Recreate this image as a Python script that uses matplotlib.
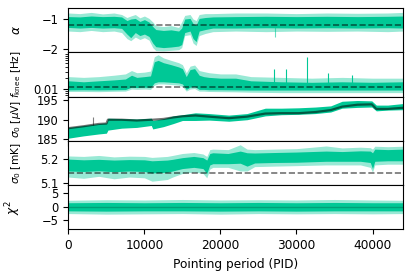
import numpy as np
import matplotlib
matplotlib.use("Agg")
import matplotlib.pyplot as plt
from matplotlib.ticker import LogLocator, NullFormatter

# ---- data (envelopes of the noisy traces) ----
# alpha
alpha_pid = [0, 1500, 3000, 4500, 6000, 7000, 7700, 8200, 8800, 9400, 10000, 10600, 11100, 11500,
             12500, 13500, 14500, 14900, 15300, 16000, 16400, 16800, 17200, 18000, 19000, 22000,
             26000, 30000, 34000, 38000, 42000, 44000]
alpha_core_hi = [-0.92, -0.93, -0.90, -0.92, -0.91, -0.93, -1.05, -1.00, -0.98, -1.08, -1.02, -1.10,
                 -1.25, -1.35, -1.38, -1.36, -1.40, -1.30, -1.00, -0.98, -1.15, -1.20, -0.98, -0.95,
                 -0.93, -0.92, -0.91, -0.92, -0.91, -0.92, -0.91, -0.90]
alpha_core_lo = [-1.28, -1.30, -1.28, -1.30, -1.29, -1.31, -1.50, -1.62, -1.45, -1.55, -1.50, -1.58,
                 -1.80, -1.92, -1.95, -1.93, -1.90, -1.85, -1.45, -1.40, -1.65, -1.75, -1.40, -1.35,
                 -1.30, -1.30, -1.29, -1.30, -1.29, -1.30, -1.29, -1.30]
alpha_out_hi = [-0.80, -0.82, -0.78, -0.83, -0.80, -0.85, -0.95, -0.90, -0.85, -0.96, -0.90, -0.98,
                -1.10, -1.22, -1.25, -1.22, -1.28, -1.10, -0.88, -0.85, -1.00, -1.05, -0.85, -0.82,
                -0.82, -0.80, -0.80, -0.82, -0.80, -0.81, -0.80, -0.78]
alpha_out_lo = [-1.40, -1.42, -1.38, -1.42, -1.40, -1.45, -1.65, -1.72, -1.60, -1.68, -1.62, -1.70,
                -1.95, -2.05, -2.06, -2.04, -2.02, -1.95, -1.55, -1.52, -1.80, -1.88, -1.55, -1.48,
                -1.42, -1.40, -1.42, -1.40, -1.41, -1.40, -1.42, -1.40]
alpha_spike_pid = [27150]
alpha_spike_bot = [-1.6]
alpha_ref = -1.19

# f_knee
fk_pid = [0, 2000, 4000, 6000, 7500, 8300, 9000, 10000, 10800, 11300, 11800, 12500, 13500, 14500,
          15000, 15500, 16000, 16600, 17200, 17800, 18500, 20000, 22000, 24000, 28000, 32000,
          36000, 40000, 44000]
fk_core_hi = [0.017, 0.016, 0.017, 0.018, 0.019, 0.024, 0.021, 0.022, 0.023, 0.055, 0.060, 0.052,
              0.046, 0.040, 0.036, 0.022, 0.034, 0.036, 0.024, 0.022, 0.021, 0.020, 0.020, 0.017,
              0.016, 0.0155, 0.016, 0.0155, 0.016]
fk_out_hi = [0.022, 0.021, 0.022, 0.024, 0.026, 0.032, 0.028, 0.029, 0.031, 0.075, 0.085, 0.070,
             0.060, 0.052, 0.046, 0.028, 0.042, 0.045, 0.032, 0.030, 0.028, 0.026, 0.026, 0.022,
             0.021, 0.020, 0.021, 0.020, 0.020]
fk_core_lo = [0.0097, 0.0098, 0.0097, 0.0098, 0.0099, 0.0115, 0.0112, 0.0115, 0.0112, 0.0150,
              0.0160, 0.0160, 0.0155, 0.0150, 0.0140, 0.0100, 0.0115, 0.0120, 0.0100, 0.0100,
              0.0098, 0.0098, 0.0097, 0.0096, 0.0096, 0.0096, 0.0096, 0.0096, 0.0096]
fk_out_lo = [0.0088, 0.0088, 0.0087, 0.0089, 0.0090, 0.0102, 0.0100, 0.0102, 0.0100, 0.0130,
             0.0140, 0.0140, 0.0135, 0.0130, 0.0120, 0.0090, 0.0102, 0.0105, 0.0090, 0.0090,
             0.0088, 0.0087, 0.0086, 0.0084, 0.0082, 0.0082, 0.0082, 0.0082, 0.0082]
fk_spike_pid = [27100, 28600, 31400, 34200, 37300]
fk_spike_top = [0.035, 0.036, 0.075, 0.027, 0.024]
fk_ref = 0.0118

# sigma0 [uV]
s_pid = [0, 2000, 4000, 5000, 5200, 7000, 9000, 10900, 11100, 12500, 13800, 15000, 16700, 18500,
         21100, 23500, 25900, 28000, 30300, 32500, 34500, 36000, 38000, 39900, 40500, 42000, 44000]
s_dark = [187.8, 188.3, 188.9, 189.0, 190.0, 190.0, 189.8, 190.0, 190.0, 190.2, 190.6, 190.9,
          191.1, 190.8, 190.4, 190.8, 191.6, 191.7, 191.7, 192.0, 192.5, 193.4, 193.9, 194.0,
          192.8, 192.8, 193.1]
s_hi = [188.0, 188.5, 189.0, 189.2, 190.4, 190.3, 190.2, 190.4, 189.8, 190.3, 191.0, 191.3, 191.8,
        191.6, 191.2, 191.6, 193.0, 193.0, 193.1, 193.3, 193.6, 194.8, 195.0, 194.9, 193.8, 193.8,
        194.2]
s_lo = [185.2, 185.8, 186.3, 186.5, 187.3, 187.8, 188.0, 188.5, 187.6, 188.2, 189.0, 189.8, 189.8,
        189.9, 189.6, 190.0, 191.0, 191.3, 191.4, 191.6, 192.0, 193.0, 193.2, 193.3, 192.3, 192.5,
        192.6]
s_spike_pid = [3300]
s_spike_top = [190.7]

# sigma0 [mK]
m_pid = [0, 2000, 4000, 6000, 8000, 10000, 11000, 13000, 13700, 15000, 16500, 17700, 18200, 18600,
         19000, 21000, 22600, 23500, 24500, 27000, 30000, 33900, 36000, 38400, 39700, 40000,
         40300, 42000, 44000]
m_core_hi = [5.199, 5.196, 5.198, 5.195, 5.197, 5.196, 5.192, 5.195, 5.198, 5.205, 5.210, 5.205,
             5.195, 5.222, 5.225, 5.222, 5.232, 5.225, 5.224, 5.226, 5.228, 5.232, 5.230, 5.233,
             5.232, 5.225, 5.240, 5.238, 5.240]
m_core_lo = [5.150, 5.148, 5.151, 5.147, 5.150, 5.148, 5.142, 5.145, 5.150, 5.160, 5.165, 5.160,
             5.140, 5.175, 5.180, 5.180, 5.182, 5.170, 5.183, 5.185, 5.186, 5.190, 5.190, 5.190,
             5.185, 5.160, 5.190, 5.192, 5.192]
m_out_hi = [5.212, 5.210, 5.214, 5.208, 5.211, 5.210, 5.206, 5.210, 5.214, 5.222, 5.226, 5.220,
            5.210, 5.238, 5.240, 5.238, 5.258, 5.240, 5.238, 5.240, 5.242, 5.253, 5.245, 5.248,
            5.246, 5.240, 5.252, 5.250, 5.252]
m_out_lo = [5.125, 5.120, 5.128, 5.118, 5.125, 5.122, 5.108, 5.115, 5.125, 5.140, 5.146, 5.140,
            5.122, 5.158, 5.165, 5.165, 5.150, 5.150, 5.168, 5.170, 5.172, 5.175, 5.175, 5.175,
            5.165, 5.145, 5.175, 5.178, 5.178]
m_ref = 5.14

# chi^2
c_pid = [0, 5000, 10000, 15000, 20000, 25000, 30000, 35000, 40000, 44000]
c_core_hi = [1.5, 1.6, 1.5, 1.6, 1.5, 1.6, 1.5, 1.6, 1.5, 1.5]
c_core_lo = [-1.5, -1.6, -1.5, -1.5, -1.6, -1.5, -1.6, -1.5, -1.5, -1.5]
c_out_hi = [2.4, 2.6, 2.5, 2.7, 2.5, 2.6, 2.5, 2.7, 2.5, 2.4]
c_out_lo = [-2.5, -2.7, -2.6, -2.5, -2.7, -2.5, -2.6, -2.5, -2.6, -2.5]
c_mid = [0.1, 0.1, 0.1, 0.1, 0.1, 0.1, 0.1, 0.1, 0.1, 0.1]

green = "#00c896"
plt.rcParams["font.size"] = 8.7
plt.rcParams["ytick.labelsize"] = 8.3

fig, axes = plt.subplots(5, 1, sharex=True, figsize=(4.12, 2.73), dpi=100)
fig.subplots_adjust(left=0.166, right=0.978, top=0.970, bottom=0.160, hspace=0)
ax1, ax2, ax3, ax4, ax5 = axes


def band(ax, x, core_lo, core_hi, out_lo, out_hi):
    ax.fill_between(x, out_lo, out_hi, color=green, alpha=0.4, lw=0)
    ax.fill_between(x, core_lo, core_hi, color=green, lw=0)


band(ax1, alpha_pid, alpha_core_lo, alpha_core_hi, alpha_out_lo, alpha_out_hi)
ax1.vlines(alpha_spike_pid, alpha_spike_bot, -1.2, color=green, lw=0.8, alpha=0.6)
ax1.axhline(alpha_ref, color="k", ls="--", lw=1.2, alpha=0.55)
ax1.set_ylim(-2.11, -0.64)
ax1.set_yticks([-1, -2])
ax1.set_ylabel(r"$\alpha$")

band(ax2, fk_pid, fk_core_lo, fk_core_hi, fk_out_lo, fk_out_hi)
ax2.vlines(fk_spike_pid, 0.012, fk_spike_top, color=green, lw=0.8)
ax2.axhline(fk_ref, color="k", ls="--", lw=1.2, alpha=0.55)
ax2.set_yscale("log")
ax2.set_ylim(0.0064, 0.098)
ax2.set_yticks([0.01])
ax2.set_yticklabels(["0.01"])
ax2.yaxis.set_minor_locator(LogLocator(base=10, subs=np.arange(2, 10)))
ax2.yaxis.set_minor_formatter(NullFormatter())
ax2.set_ylabel(r"$f_\mathrm{knee}$ [Hz]", fontsize=7.6)

ax3.fill_between(s_pid, s_lo, s_hi, color=green, lw=0)
ax3.plot(s_pid, s_dark, color="k", lw=1.6, alpha=0.55)
ax3.vlines(s_spike_pid, 188.5, s_spike_top, color="k", lw=0.8, alpha=0.5)
ax3.set_ylim(184.5, 196)
ax3.set_yticks([185, 190, 195])
ax3.set_ylabel(r"$\sigma_0$ [$\mu$V]", fontsize=7.6)

band(ax4, m_pid, m_core_lo, m_core_hi, m_out_lo, m_out_hi)
ax4.axhline(m_ref, color="k", ls="--", lw=1.2, alpha=0.55)
ax4.set_ylim(5.092, 5.274)
ax4.set_yticks([5.1, 5.2])
ax4.set_ylabel(r"$\sigma_0$ [mK]", fontsize=7.6)

band(ax5, c_pid, c_core_lo, c_core_hi, c_out_lo, c_out_hi)
ax5.plot(c_pid, c_mid, color="#00a077", lw=1)
ax5.set_ylim(-8.3, 8)
ax5.set_yticks([-5, 0, 5])
ax5.set_ylabel(r"$\chi^2$")

ax5.set_xlim(0, 44000)
ax5.set_xticks([0, 10000, 20000, 30000, 40000])
ax5.set_xlabel("Pointing period (PID)")

for ax in axes:
    ax.yaxis.set_label_coords(-0.135, 0.5)

plt.savefig("out.png", dpi=100)
